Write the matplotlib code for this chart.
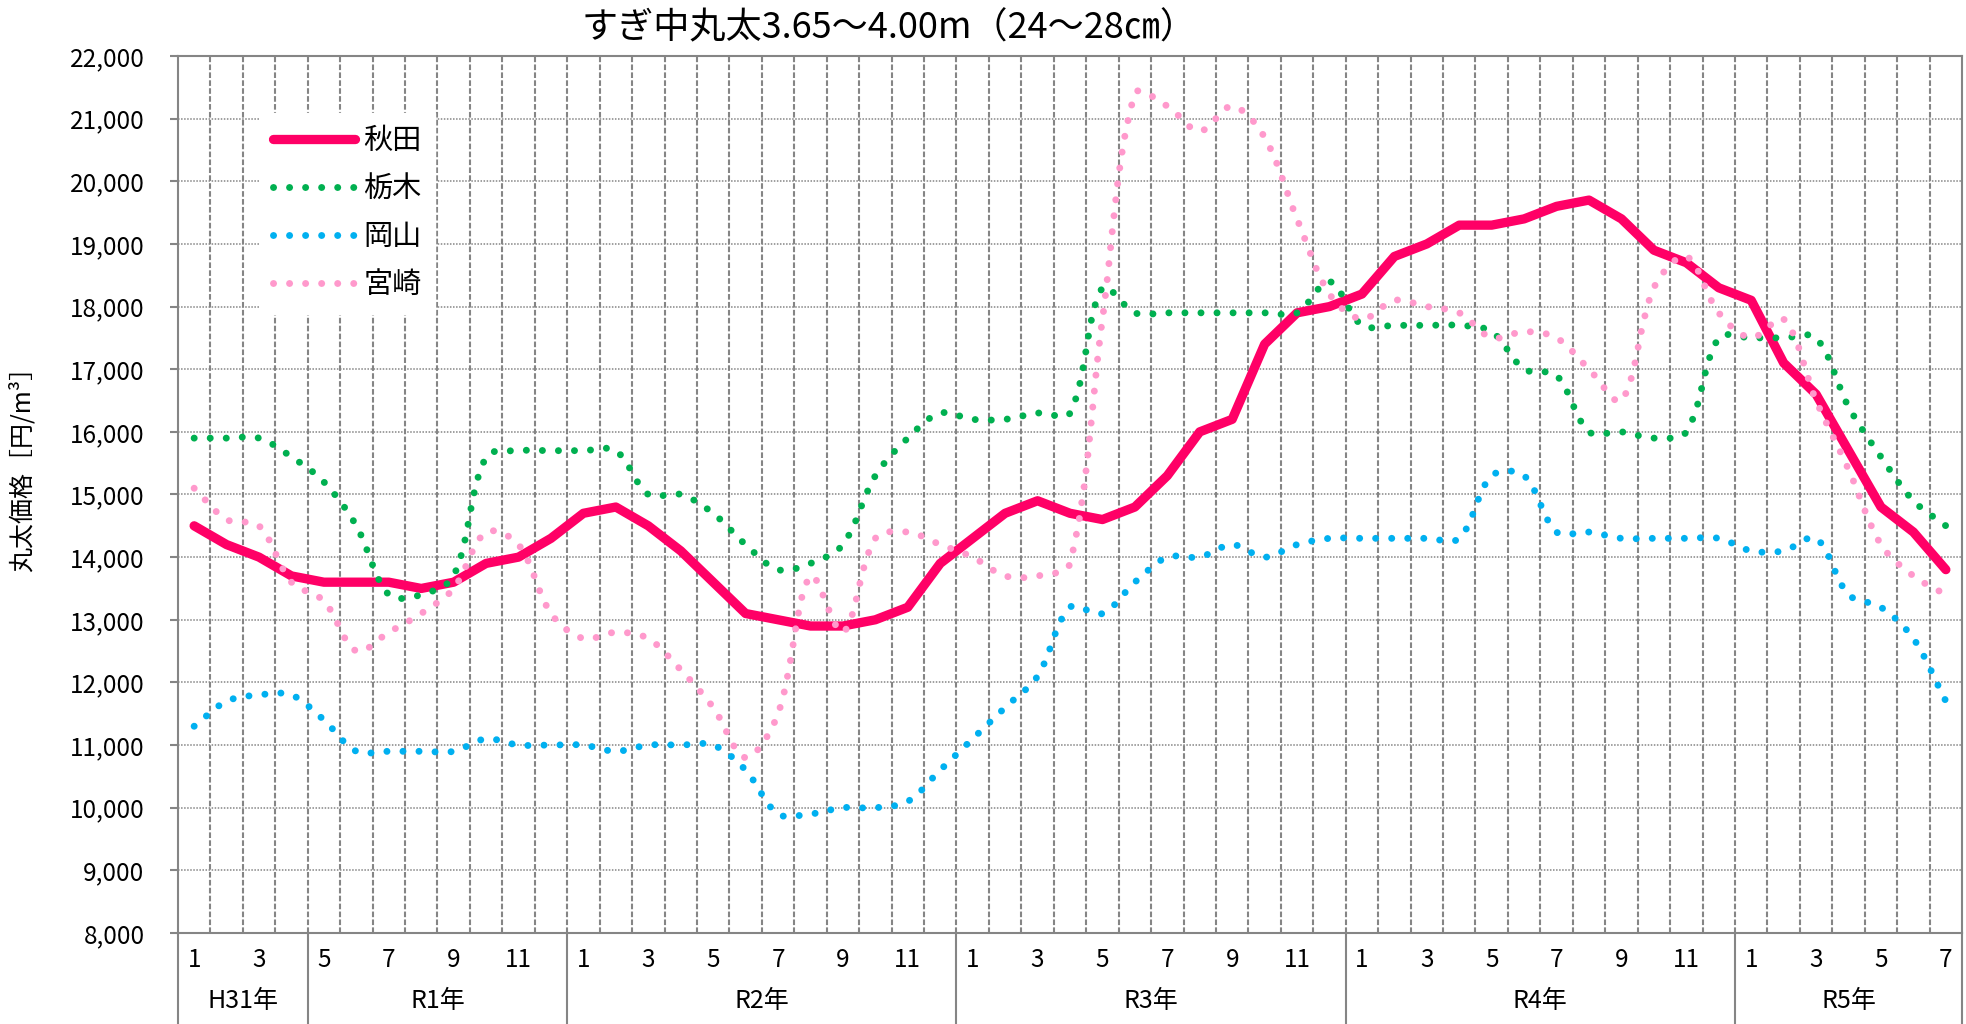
import numpy as np
import matplotlib
matplotlib.use('Agg')
import matplotlib.pyplot as plt
import matplotlib.transforms as mtransforms
from matplotlib.path import Path
from matplotlib.patches import PathPatch
from matplotlib.lines import Line2D
from matplotlib.ticker import FuncFormatter

plt.rcParams['font.family'] = ['Noto Sans CJK JP', 'DejaVu Sans']

# categories: year groups and the months in each
years = ['H31年', 'R1年', 'R2年', 'R3年', 'R4年', 'R5年']
first_month = [1, 5, 1, 1, 1, 1]
last_month = [4, 12, 12, 12, 12, 7]

# prices (円/m3), monthly from H31.1 to R5.7
akita = [14500, 14200, 14000, 13700,
         13600, 13600, 13600, 13500, 13600, 13900, 14000, 14300,
         14700, 14800, 14500, 14100, 13600, 13100, 13000, 12900, 12900, 13000, 13200, 13900,
         14300, 14700, 14900, 14700, 14600, 14800, 15300, 16000, 16200, 17400, 17900, 18000,
         18200, 18800, 19000, 19300, 19300, 19400, 19600, 19700, 19400, 18900, 18700, 18300,
         18100, 17100, 16600, 15700, 14800, 14400, 13800]
tochigi = [15900, 15900, 15900, 15600,
           15200, 14500, 13400, 13400, 13700, 15600, 15700, 15700,
           15700, 15700, 15000, 15000, 14700, 14200, 13800, 13900, 14200, 15300, 15900, 16300,
           16200, 16200, 16300, 16300, 18300, 17900, 17900, 17900, 17900, 17900, 17900, 18400,
           17700, 17700, 17700, 17700, 17600, 17000, 16900, 16000, 16000, 15900, 16000, 17500,
           17500, 17500, 17500, 16400, 15600, 14900, 14500]
okayama = [11300, 11700, 11800, 11800,
           11400, 10900, 10900, 10900, 10900, 11100, 11000, 11000,
           11000, 10900, 11000, 11000, 11000, 10600, 9900, 9900, 10000, 10000, 10100, 10600,
           11100, 11600, 12100, 13200, 13100, 13600, 14000, 14000, 14200, 14000, 14200, 14300,
           14300, 14300, 14300, 14300, 15300, 15300, 14400, 14400, 14300, 14300, 14300, 14300,
           14100, 14100, 14300, 13400, 13200, 12700, 11700]
miyazaki = [15100, 14600, 14500, 13600,
            13300, 12500, 12800, 13100, 13500, 14400, 14200, 13100,
            12700, 12800, 12700, 12200, 11600, 10800, 11500, 13700, 12800, 14300, 14400, 14200,
            14000, 13700, 13700, 13900, 17800, 21400, 21200, 20800, 21200, 20700, 19400, 18200,
            17800, 18100, 18000, 17900, 17500, 17600, 17500, 17000, 16500, 18300, 18800, 17900,
            17500, 17800, 16500, 15400, 14200, 13700, 13400]

series_names = ['秋田', '栃木', '岡山', '宮崎']
colors = ['#FF0066', '#00B050', '#00B0F0', '#FF99CC']

W, H = 1966, 1024
fig = plt.figure(figsize=(W / 100, H / 100), dpi=100)
left, bottom, right, top = 0.0905, 0.0889, 0.998, 0.9453
ax = fig.add_axes([left, bottom, right - left, top - bottom])

months = []
for f, l in zip(first_month, last_month):
    months += list(range(f, l + 1))
n = len(months)
x = np.arange(n)
ymin, ymax = 8000, 22000
ax.set_xlim(-0.5, n - 0.5)
ax.set_ylim(ymin, ymax)

# pixel scale of the axes, used to smooth the dotted series like Excel does
sx = W * (right - left) / n
sy = H * (top - bottom) / (ymax - ymin)


def smooth_path(xs, ys):
    P = np.column_stack([np.asarray(xs, float) * sx, np.asarray(ys, float) * sy])
    m = len(P)
    verts = [P[0]]
    codes = [Path.MOVETO]
    for i in range(m - 1):
        p0 = P[i - 1] if i > 0 else P[i]
        p1, p2 = P[i], P[i + 1]
        p3 = P[i + 2] if i + 2 < m else P[i + 1]
        d01 = np.hypot(*(p1 - p0))
        d12 = np.hypot(*(p2 - p1))
        d23 = np.hypot(*(p3 - p2))
        c1 = p1 + (p2 - p0) * d12 / (d01 + d12) / 3
        c2 = p2 - (p3 - p1) * d12 / (d12 + d23) / 3
        verts += [c1, c2, p2]
        codes += [Path.CURVE4] * 3
    verts = np.array(verts) / [sx, sy]
    return Path(verts, codes)


dot_style = (0, (0.01, 2.3))

ax.plot(x, akita, color=colors[0], lw=6.7, solid_joinstyle='round',
        solid_capstyle='round', zorder=3)
for vals, c in zip([tochigi, okayama, miyazaki], colors[1:]):
    patch = PathPatch(smooth_path(x, vals), fill=False, edgecolor=c, lw=5.0,
                      linestyle=dot_style, capstyle='round', zorder=4)
    ax.add_patch(patch)

# grid
grid_c = '#858585'
ax.set_yticks(np.arange(ymin, ymax + 1, 1000))
ax.yaxis.set_major_formatter(FuncFormatter(lambda v, p: f'{int(v):,}'))
ax.grid(axis='y', which='major', color=grid_c, linestyle=(0, (1, 1)), linewidth=1.1)
ax.set_xticks(np.arange(0.5, n - 1, 1), minor=True)
ax.set_xticks([])
ax.grid(axis='x', which='minor', color=grid_c, linestyle=(0, (2.7, 1.1)), linewidth=1.5)
ax.set_axisbelow(True)
for s in ax.spines.values():
    s.set_color(grid_c)
    s.set_linewidth(1.5)
ax.tick_params(axis='x', which='both', length=0, labelbottom=False)
ax.tick_params(axis='y', direction='out', length=6, width=1.5, color=grid_c,
               labelsize=17.5, pad=18)

# two-level category labels under the axis
tr = mtransforms.blended_transform_factory(ax.transData, fig.transFigure)
for i, mo in enumerate(months):
    if mo % 2 == 1:
        ax.text(i, 0.0625, str(mo), transform=tr, ha='center', va='center', fontsize=17.5)
start = 0
for name, f, l in zip(years, first_month, last_month):
    cnt = l - f + 1
    ax.text(start + (cnt - 1) / 2, 0.0225, name, transform=tr, ha='center',
            va='center', fontsize=18)
    ax.plot([start - 0.5, start - 0.5], [0, bottom], transform=tr, color=grid_c,
            lw=1.5, clip_on=False)
    start += cnt
ax.plot([start - 0.5, start - 0.5], [0, bottom], transform=tr, color=grid_c,
        lw=1.5, clip_on=False)

# legend
handles = [Line2D([], [], color=colors[0], lw=6.7, solid_capstyle='round')]
for c in colors[1:]:
    handles.append(Line2D([], [], color=c, lw=5.0, linestyle=dot_style,
                          dash_capstyle='round'))
leg = ax.legend(handles, series_names, loc='upper left', bbox_to_anchor=(0.046, 0.935),
                frameon=True, fancybox=False, edgecolor='white', facecolor='white',
                framealpha=1, fontsize=21, handlelength=2.8, handletextpad=0.3,
                labelspacing=0.62, borderpad=0.45, borderaxespad=0)
leg.set_zorder(6)

fig.text(0.452, 0.9727, 'すぎ中丸太3.65～4.00m（24～28㎝）', ha='center', va='center',
         fontsize=26)
fig.text(0.0112, 0.548, '丸太価格［円/m³］', rotation=90, ha='center', va='center',
         fontsize=18)

fig.savefig('out.png', dpi=100)
